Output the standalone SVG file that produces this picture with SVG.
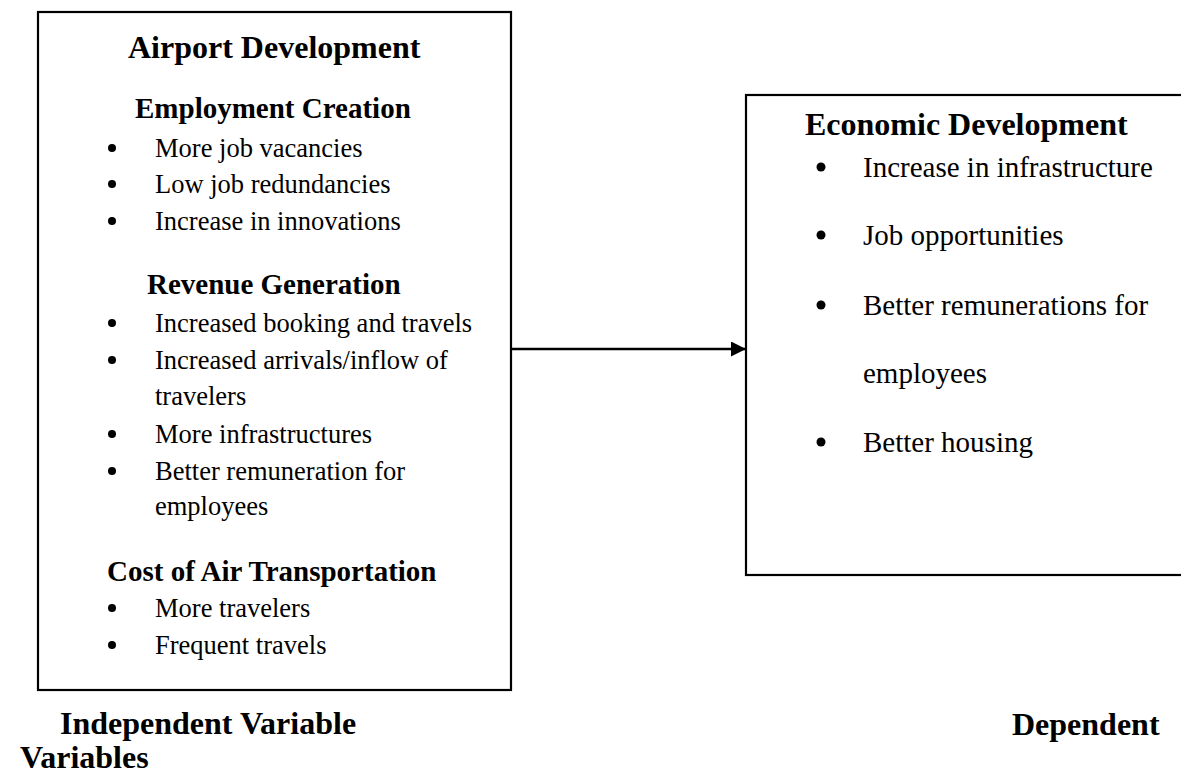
<svg xmlns="http://www.w3.org/2000/svg" width="1181" height="775" viewBox="0 0 1181 775">
  <style>
    text { font-family: "Liberation Serif", "Times New Roman", serif; fill: #000; }
    .title { font-size: 32px; font-weight: bold; }
    .sub { font-size: 29px; font-weight: bold; }
    .item { font-size: 26.5px; }
    .item-r { font-size: 29px; }
    .box { fill: #fff; stroke: #000; stroke-width: 2.2; }
    .dot { fill: #000; }
    .link { stroke: #000; stroke-width: 2.5; fill: none; }
  </style>
  <defs>
    <marker id="head" viewBox="0 0 15 15" refX="15" refY="7.5" markerWidth="15" markerHeight="15" markerUnits="userSpaceOnUse" orient="auto">
      <path d="M0,0 L15,7.5 L0,15 Z" fill="#000"/>
    </marker>
  </defs>
  <rect width="1181" height="775" fill="#fff"/>

  <!-- Independent variables box -->
  <g id="airport-development">
    <rect class="box" x="38" y="12" width="473" height="678"/>
    <text class="title" x="128" y="58">Airport Development</text>

    <text class="sub" x="135" y="118">Employment Creation</text>
    <circle class="dot" cx="112" cy="148" r="4"/>
    <text class="item" x="155" y="157">More job vacancies</text>
    <circle class="dot" cx="112" cy="184" r="4"/>
    <text class="item" x="155" y="193">Low job redundancies</text>
    <circle class="dot" cx="112" cy="221" r="4"/>
    <text class="item" x="155" y="230">Increase in innovations</text>

    <text class="sub" x="147" y="294">Revenue Generation</text>
    <circle class="dot" cx="112" cy="323" r="4"/>
    <text class="item" x="155" y="332">Increased booking and travels</text>
    <circle class="dot" cx="112" cy="360" r="4"/>
    <text class="item" x="155" y="369">Increased arrivals/inflow of</text>
    <text class="item" x="155" y="405">travelers</text>
    <circle class="dot" cx="112" cy="434" r="4"/>
    <text class="item" x="155" y="443">More infrastructures</text>
    <circle class="dot" cx="112" cy="471" r="4"/>
    <text class="item" x="155" y="480">Better remuneration for</text>
    <text class="item" x="155" y="515">employees</text>

    <text class="sub" x="107" y="581">Cost of Air Transportation</text>
    <circle class="dot" cx="112" cy="608" r="4"/>
    <text class="item" x="155" y="617">More travelers</text>
    <circle class="dot" cx="112" cy="645" r="4"/>
    <text class="item" x="155" y="654">Frequent travels</text>
  </g>

  <!-- Dependent variable box (runs off the right edge) -->
  <g id="economic-development">
    <rect class="box" x="746" y="95" width="460" height="480"/>
    <text class="title" x="805" y="135">Economic Development</text>
    <circle class="dot" cx="821" cy="167" r="4.5"/>
    <text class="item-r" x="863" y="177">Increase in infrastructure</text>
    <circle class="dot" cx="821" cy="235" r="4.5"/>
    <text class="item-r" x="863" y="245">Job opportunities</text>
    <circle class="dot" cx="821" cy="305" r="4.5"/>
    <text class="item-r" x="863" y="315">Better remunerations for</text>
    <text class="item-r" x="863" y="383">employees</text>
    <circle class="dot" cx="821" cy="442" r="4.5"/>
    <text class="item-r" x="863" y="452">Better housing</text>
  </g>

  <!-- Connector -->
  <g id="connectors">
    <line class="link" x1="510" y1="349" x2="746" y2="349" marker-end="url(#head)"/>
  </g>

  <!-- Captions under the boxes -->
  <g id="captions">
    <text class="title" x="60" y="734">Independent Variable</text>
    <text class="title" x="1012" y="735">Dependent</text>
    <text class="title" x="20" y="768">Variables</text>
  </g>
</svg>
